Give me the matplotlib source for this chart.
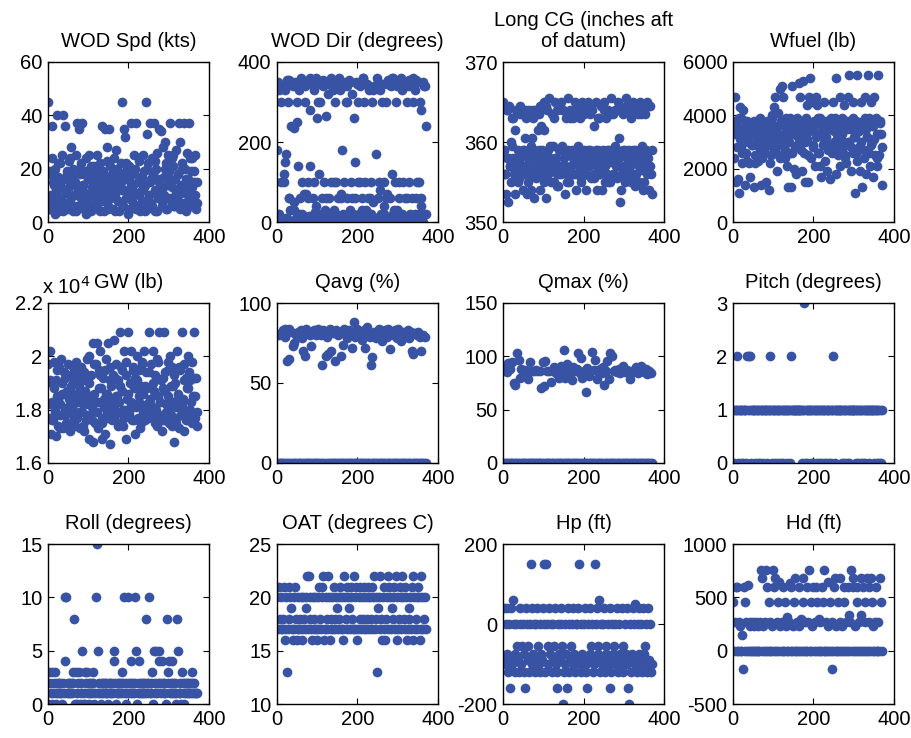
import numpy as np
import matplotlib.pyplot as plt
from matplotlib.ticker import FuncFormatter

plt.rcParams['font.family'] = ['Liberation Sans', 'DejaVu Sans']
plt.rcParams['axes.unicode_minus'] = False

# samples on odd days (x = 1, 3, 5, ...)
wod_spd = [45, 5, 18, 10, 36, 24, 15, 5, 20, 12, 8, 40, 17, 4, 22, 14, 9, 25, 40, 6,
           16, 36, 11, 19, 5, 23, 13, 8, 28, 17, 4, 20, 10, 15, 25, 37, 6, 12, 35, 18,
           9, 22, 37, 14, 5, 19, 11, 24, 7, 16, 25, 10, 20, 4, 13, 18, 6, 21, 15, 9,
           25, 12, 5, 17, 22, 8, 14, 36, 19, 4, 35, 11, 16, 28, 6, 35, 21, 13, 9, 18,
           5, 24, 15, 10, 27, 20, 8, 17, 4, 14, 22, 12, 45, 6, 35, 32, 19, 9, 16, 11,
           21, 5, 14, 37, 8, 18, 25, 11, 20, 37, 6, 15, 10, 23, 4, 17, 12, 25, 8, 19,
           14, 45, 5, 33, 22, 10, 37, 16, 7, 24, 18, 37, 12, 4, 20, 26, 9, 15, 35, 11,
           34, 6, 28, 17, 10, 30, 22, 5, 14, 25, 19, 37, 8, 13, 24, 21, 6, 16, 11, 27,
           9, 18, 37, 5, 30, 14, 22, 7, 37, 12, 20, 4, 26, 16, 10, 37, 6, 19, 13, 24,
           8, 15, 25, 5, 7]
wod_dir = [180, 350, 20, 5, 300, 100, 340, 0, 120, 150, 330, 170, 10, 300, 60, 355, 30, 240, 0, 340,
           235, 50, 350, 10, 250, 140, 0, 330, 60, 360, 20, 100, 345, 5, 300, 70, 0, 350, 100, 15,
           280, 140, 345, 0, 60, 100, 330, 25, 360, 260, 5, 300, 120, 10, 350, 60, 0, 340, 100, 30,
           265, 0, 350, 320, 60, 15, 100, 360, 5, 340, 30, 0, 300, 100, 345, 60, 10, 0, 330, 70,
           180, 20, 350, 100, 0, 300, 60, 340, 10, 355, 30, 100, 0, 320, 5, 260, 150, 60, 350, 0,
           300, 20, 100, 340, 0, 60, 360, 10, 300, 100, 30, 345, 0, 60, 330, 20, 100, 0, 300, 50,
           340, 0, 170, 10, 360, 60, 0, 80, 330, 20, 5, 345, 100, 40, 0, 300, 70, 355, 10, 0,
           60, 340, 120, 20, 360, 0, 100, 300, 30, 350, 5, 60, 0, 360, 20, 330, 100, 0, 60, 350,
           10, 300, 0, 355, 100, 20, 340, 60, 0, 360, 5, 330, 60, 100, 0, 350, 20, 300, 40, 280,
           0, 350, 20, 340, 240]
long_cg = [365, 359, 356, 353.5, 364, 358, 352.5, 364.5, 357, 360, 355, 363, 358, 356, 361.5, 353.5, 364, 357, 359, 355.5,
           363.5, 358, 356, 364, 354, 359, 357, 360.5, 364, 353.5, 358, 355, 364, 357, 359.5, 360.5, 356, 363, 353, 358,
           364, 355.5, 357, 361.5, 359, 354, 364.5, 362, 356, 358, 365, 361.5, 357, 353, 364, 359, 356, 365.5, 358, 355,
           363.5, 357, 359.5, 355, 365, 358, 356, 364, 354.5, 359, 357, 365, 356, 359.5, 364, 358, 353.5, 357, 363, 356,
           365.5, 358.5, 355, 364, 357, 359, 363, 356, 358, 365, 354, 357.5, 364.5, 359, 356, 363, 358, 355.5, 365, 357,
           359, 364, 356, 354, 358, 365, 357, 363.5, 359, 355.5, 364, 358, 356, 362, 357.5, 365, 354, 359, 363, 356,
           358, 364.5, 354, 357, 359, 365, 355, 363, 358, 356, 364, 359, 357.5, 355, 365.5, 358, 363.5, 356, 359, 364,
           357, 355.5, 365, 360.5, 358, 352.5, 364, 356, 359, 363.5, 357, 355, 365.5, 358, 356, 364, 359, 357, 363, 355,
           358.5, 365, 356, 359, 354.5, 364, 357.5, 363.5, 355, 359, 365, 356.5, 358, 364, 354, 357, 363.5, 359, 356, 365,
           358, 354, 364.5, 356, 353.5]
wfuel = [3800, 2400, 4700, 1500, 3300, 3600, 1600, 1100, 4300, 2800, 3900, 2200, 4200, 3200, 1400, 3500, 2600, 3800, 3000, 2200,
         3500, 1700, 3700, 2900, 3300, 1300, 3800, 2500, 3400, 3100, 2300, 3600, 2800, 3900, 1400, 3200, 2400, 3700, 3000, 2600,
         3500, 1500, 3800, 2900, 1200, 3300, 2200, 3700, 4000, 3100, 4300, 2700, 4700, 3400, 1900, 4100, 3600, 2500, 5000, 3800,
         5100, 2900, 4700, 3600, 2400, 3900, 3200, 2100, 1300, 3700, 2600, 1300, 3800, 5100, 3300, 2000, 3600, 2800, 1800, 3900,
         3500, 5200, 2900, 4700, 3700, 1900, 3300, 5300, 2600, 1500, 3800, 4400, 3100, 1500, 4700, 5400, 2400, 3600, 4500, 2900,
         3800, 2100, 4700, 3300, 4400, 2600, 3700, 2100, 3900, 1700, 3400, 2900, 4500, 3700, 2300, 3200, 1900, 3800, 2700, 3500,
         1600, 3900, 2800, 3600, 4500, 3000, 3800, 1800, 5400, 3300, 2500, 3700, 4700, 2100, 3100, 3900, 2800, 3600, 4400, 2400,
         2200, 3800, 4700, 3000, 5500, 3500, 1900, 3700, 2600, 4500, 3200, 1100, 3800, 5500, 2300, 3400, 2800, 1900, 3700, 4500,
         1300, 3500, 2400, 3900, 4700, 1800, 3200, 5500, 2600, 3700, 2100, 4500, 3000, 1700, 3600, 4700, 2500, 3900, 2100, 3300,
         5500, 2500, 3800, 3300, 1400]
gw = [19700, 17700, 20200, 17100, 19000, 18300, 17600, 19800, 18000, 17000, 19100, 18500, 17400, 19600, 18200, 17800, 19900, 18600, 17300, 19400,
      18000, 19200, 17500, 18700, 19700, 17900, 18400, 17200, 19300, 18100, 17800, 19000, 18600, 17400, 19800, 18300, 17700, 19400, 18900, 17300,
      18500, 19600, 17900, 18200, 17200, 19100, 18700, 17600, 19900, 18400, 16900, 20000, 17800, 19300, 18100, 16800, 20500, 18600, 17500, 19700,
      20500, 18300, 17300, 19500, 20200, 18800, 16900, 17700, 19200, 18400, 17100, 19900, 18600, 17900, 20500, 18200, 16700, 19600, 18900, 17600,
      19300, 18100, 20600, 17800, 19700, 18500, 17500, 19100, 18300, 20900, 17900, 19500, 18700, 17400, 20200, 18000, 16900, 19800, 18400, 20900,
      17800, 19000, 18300, 20200, 17600, 19600, 18800, 17100, 19200, 18100, 20000, 17700, 19500, 18500, 17300, 18900, 19800, 17900, 18600, 20200,
      17600, 19400, 18200, 18800, 17700, 20900, 18400, 19700, 17900, 18100, 20200, 18700, 17500, 19300, 18000, 19900, 18500, 17800, 20900, 18300,
      19100, 17200, 18800, 20900, 17600, 19400, 18200, 17800, 19800, 18500, 17500, 20000, 18900, 17400, 19600, 18300, 16800, 19000, 18100, 17700,
      20200, 18600, 17300, 19500, 18100, 17800, 20900, 18400, 17200, 19700, 18000, 19200, 17600, 18800, 20000, 17900, 19100, 18300, 17500, 19800,
      18500, 20900, 17700, 19200, 17400]

# extra samples every fourth day (x = 2, 6, 10, ...) for the scattered panels
wod_spd_b = [5, 19, 8, 14, 3, 10, 22, 6, 16, 4, 12, 18, 7, 24, 5, 15, 10, 4, 13, 20,
             6, 14, 18, 3, 9, 16, 21, 5, 12, 7, 19, 14, 4, 11, 17, 8, 23, 5, 15, 10,
             20, 4, 13, 8, 18, 15, 6, 12, 22, 3, 16, 9, 14, 19, 5, 11, 24, 7, 17, 13,
             4, 20, 10, 15, 6, 18, 23, 4, 11, 16, 8, 13, 20, 5, 17, 9, 14, 25, 6, 12,
             18, 7, 11, 20, 5, 16, 13, 9, 24, 6, 19, 10, 15]
wod_dir_b = [20, 330, 0, 340, 100, 10, 355, 60, 0, 345, 30, 0, 300, 20, 350, 0, 70, 340, 5, 60,
             360, 10, 0, 340, 40, 0, 300, 20, 355, 0, 60, 345, 10, 0, 330, 100, 20, 0, 360, 60,
             0, 340, 10, 300, 0, 350, 60, 20, 0, 345, 100, 0, 30, 360, 10, 0, 340, 60, 20, 330,
             0, 10, 350, 100, 0, 300, 20, 60, 345, 0, 10, 360, 30, 0, 340, 100, 0, 20, 350, 0,
             60, 340, 10, 0, 300, 20, 355, 0, 100, 60, 0, 340, 20]
long_cg_b = [359, 356, 364, 358, 357, 359.5, 363, 356.5, 358, 355, 364.5, 357, 359, 356, 363, 358.5, 357, 354, 364, 359,
             356, 358, 363.5, 357, 359, 355, 364.5, 358, 356.5, 359.5, 357, 363, 358, 354.5, 356, 359, 364, 357, 358.5, 355,
             359, 363, 357, 358, 356, 364, 359.5, 357, 355, 358.5, 363.5, 356, 359, 357, 364.5, 358, 355.5, 359, 357, 363,
             356, 358.5, 364, 357, 359, 355, 363.5, 358, 356, 359.5, 357, 364, 358.5, 354, 356.5, 359, 364.5, 357, 358, 355.5,
             359, 364, 356, 358, 357, 363.5, 359.5, 355, 358, 356.5, 364.5, 357, 359]
wfuel_b = [3300, 3600, 2800, 3900, 3100, 2600, 3500, 3800, 2300, 3200, 3700, 2900, 3400, 2200, 3600, 3000, 3800, 2700, 3300, 3500,
           2900, 3700, 3200, 2500, 3900, 3400, 2800, 3600, 3100, 2400, 3800, 3300, 2700, 3500, 3000, 3900, 2600, 3400, 3700, 2900,
           3200, 3800, 2700, 3500, 3000, 3900, 2500, 3400, 3700, 2800, 3600, 3200, 3900, 2600, 3300, 3700, 3000, 3800, 2900, 3500,
           3700, 2600, 3400, 3900, 3100, 2800, 3600, 3300, 3800, 2500, 3500, 3000, 3700, 2800, 3900, 3200, 2600, 3600, 3400, 3000,
           3800, 2700, 3500, 3200, 3900, 2900, 3600, 3100, 3800, 2400, 3300, 3700, 2800]
gw_b = [18200, 19100, 17600, 18800, 17900, 19500, 18400, 17300, 19000, 18600, 17800, 19300, 18100, 17500, 18900, 19600, 17700, 18300, 19200, 17900,
        18700, 17400, 19400, 18200, 17800, 19000, 18500, 17600, 19700, 18300, 17900, 18800, 19300, 17500, 18100, 19500, 18600, 17700, 19100, 18400,
        17800, 19200, 18500, 17400, 18900, 19600, 18000, 17700, 19300, 18600, 17900, 18200, 19500, 17600, 18800, 19100, 18300, 17500, 19700, 18100,
        18900, 17700, 19400, 18200, 17800, 19000, 18600, 17400, 19800, 18300, 17600, 19200, 18700, 17900, 19500, 18100, 17800, 18900, 19300, 17500,
        18400, 19600, 17800, 18200, 19100, 17600, 18800, 19400, 18000, 17700, 19200, 18500, 17900]

qavg = [80, 0, 80, 0, 81, 0, 0, 83, 0, 79, 84, 0, 64, 0, 65, 84, 0, 82, 0, 73,
        0, 75, 0, 80, 0, 82, 79, 0, 0, 83, 0, 78, 70, 0, 67, 0, 84, 0, 81, 0,
        80, 0, 73, 0, 82, 0, 83, 0, 80, 0, 84, 0, 81, 0, 80, 61, 0, 83, 0, 82,
        67, 0, 79, 68, 0, 84, 0, 70, 0, 81, 0, 64, 0, 83, 0, 80, 0, 82, 0, 67,
        0, 74, 0, 84, 0, 80, 0, 78, 0, 83, 0, 82, 0, 72, 0, 88, 0, 79, 0, 84,
        0, 81, 0, 80, 0, 77, 0, 83, 0, 72, 0, 85, 0, 80, 0, 79, 61, 0, 66, 0,
        82, 0, 78, 0, 80, 0, 84, 0, 81, 0, 76, 0, 82, 0, 83, 0, 79, 0, 84, 0,
        71, 0, 82, 0, 80, 0, 83, 0, 78, 0, 84, 0, 80, 0, 76, 0, 82, 0, 79, 0,
        81, 0, 83, 0, 78, 0, 82, 70, 0, 68, 0, 81, 0, 80, 0, 82, 0, 79, 0, 70,
        0, 80, 0, 79, 0]
qmax = [90, 0, 87, 0, 85, 0, 94, 0, 88, 0, 0, 95, 0, 75, 0, 73, 0, 103, 0, 97,
        80, 0, 88, 0, 86, 0, 0, 87, 0, 86, 0, 79, 0, 95, 0, 86, 0, 0, 86, 0,
        87, 0, 86, 0, 0, 86, 0, 70, 0, 95, 72, 0, 96, 0, 86, 0, 0, 86, 0, 76,
        0, 86, 0, 90, 0, 84, 0, 88, 0, 80, 0, 91, 0, 86, 0, 106, 0, 80, 0, 93,
        0, 87, 0, 84, 0, 78, 0, 90, 0, 86, 0, 88, 0, 103, 0, 84, 98, 0, 80, 0,
        86, 0, 67, 0, 89, 0, 82, 0, 86, 0, 104, 0, 87, 0, 97, 0, 79, 0, 86, 0,
        88, 0, 84, 0, 90, 73, 0, 86, 0, 96, 0, 79, 0, 103, 0, 100, 0, 86, 0, 87,
        0, 85, 0, 88, 0, 84, 0, 86, 0, 91, 0, 85, 0, 87, 0, 86, 0, 79, 0, 84,
        0, 86, 0, 88, 0, 90, 0, 84, 0, 86, 0, 91, 0, 88, 0, 85, 0, 88, 0, 83,
        0, 86, 0, 84, 0]
pitch = [1, 0, 1, 1, 1, 2, 0, 1, 1, 0, 1, 1, 0, 1, 1, 1, 0, 2, 1, 2,
         2, 1, 0, 1, 1, 1, 1, 0, 1, 1, 0, 1, 1, 0, 1, 1, 1, 0, 1, 1,
         1, 1, 0, 1, 1, 1, 2, 1, 0, 1, 1, 1, 0, 1, 1, 0, 1, 1, 1, 0,
         1, 1, 0, 1, 1, 1, 0, 1, 1, 1, 0, 1, 2, 1, 1, 1, 1, 1, 1, 1,
         1, 1, 1, 1, 1, 0, 1, 1, 3, 0, 1, 1, 0, 1, 1, 1, 0, 1, 1, 0,
         1, 1, 0, 1, 1, 1, 0, 1, 1, 0, 1, 1, 0, 1, 1, 0, 1, 1, 1, 0,
         1, 0, 1, 1, 2, 1, 0, 1, 1, 1, 1, 1, 1, 1, 1, 0, 1, 1, 0, 1,
         1, 0, 1, 1, 0, 1, 1, 1, 1, 1, 1, 1, 0, 1, 1, 0, 1, 1, 0, 1,
         1, 0, 1, 1, 0, 1, 1, 1, 0, 1, 1, 1, 1, 1, 1, 0, 1, 1, 0, 1,
         1, 0, 1, 0, 1]
roll = [0, 3, 2, 1, 3, 0, 1, 2, 3, 0, 1, 2, 1, 2, 1, 2, 1, 0, 2, 1,
        10, 4, 10, 1, 2, 1, 2, 1, 2, 1, 2, 3, 8, 0, 3, 1, 0, 2, 3, 0,
        1, 2, 5, 0, 1, 3, 0, 2, 3, 1, 2, 0, 1, 2, 1, 3, 2, 0, 1, 10,
        15, 1, 5, 2, 1, 0, 2, 1, 2, 1, 2, 1, 2, 1, 0, 2, 1, 2, 1, 2,
        1, 5, 4, 2, 0, 1, 2, 1, 2, 1, 2, 3, 1, 2, 10, 1, 0, 2, 1, 10,
        2, 1, 2, 4, 1, 2, 1, 2, 10, 5, 0, 1, 4, 2, 1, 2, 1, 2, 1, 2,
        1, 8, 2, 1, 2, 10, 1, 2, 1, 3, 0, 5, 1, 2, 5, 1, 2, 5, 4, 2,
        1, 4, 2, 1, 2, 1, 0, 8, 3, 2, 4, 1, 2, 4, 1, 2, 1, 2, 1, 0,
        8, 5, 1, 2, 1, 0, 3, 2, 1, 0, 2, 1, 2, 1, 2, 1, 2, 1, 2, 3,
        1, 2, 1, 1, 1]
oat = [20, 17, 21, 18, 17, 20, 17, 18, 21, 16, 17, 20, 13, 17, 21, 18, 20, 19, 17, 16,
       20, 17, 21, 18, 16, 17, 20, 17, 18, 20, 16, 17, 20, 18, 17, 20, 19, 22, 17, 22,
       20, 18, 17, 16, 20, 17, 18, 20, 17, 16, 20, 17, 21, 18, 17, 20, 21, 22, 16, 17,
       20, 18, 17, 22, 20, 16, 17, 18, 20, 17, 21, 18, 17, 20, 19, 17, 20, 18, 21, 17,
       20, 16, 17, 22, 20, 18, 17, 21, 20, 19, 17, 21, 20, 18, 17, 22, 20, 17, 21, 16,
       17, 20, 18, 21, 17, 20, 18, 17, 21, 20, 17, 18, 20, 21, 17, 20, 18, 17, 21, 20,
       22, 17, 20, 18, 13, 19, 20, 17, 22, 18, 16, 20, 17, 21, 16, 18, 20, 17, 22, 21,
       20, 17, 19, 18, 20, 21, 17, 22, 20, 16, 17, 18, 21, 20, 17, 22, 20, 18, 17, 21,
       20, 16, 17, 18, 19, 20, 17, 21, 16, 22, 20, 17, 18, 20, 17, 21, 20, 16, 17, 22,
       20, 17, 18, 20, 17]
hp = [-90, 40, -100, 0, -75, 40, -120, 0, -160, -90, 40, -100, 60, 0, -120, -75, 0, -55, -90, -120,
      40, 0, -100, -55, 0, -75, -120, -160, 40, 0, -90, -55, -120, 0, 150, -100, 40, -75, 0, -120,
      -90, 0, 40, -55, -100, -120, 0, -75, -90, 40, 0, 150, -120, 150, 0, -100, -55, 40, -75, 0,
      -120, -90, 0, -55, 40, -100, -160, -120, 0, -75, -90, 40, 0, -55, -200, -120, -100, 0, -75, -160,
      40, 0, -120, -90, -55, 0, -100, 40, -75, -120, 0, -90, 0, 40, 150, -100, -120, 0, -75, -90,
      0, 40, -120, -100, -160, 0, -90, 40, -75, -55, 0, -120, -100, -90, 150, 0, 40, -55, -75, 60,
      -120, 0, -90, -100, 0, 40, -120, -75, -55, -90, 0, -100, -160, 40, -120, 0, -75, -90, -55, 0,
      -100, 40, -120, 0, -90, -75, -100, 40, -55, -120, -90, 0, -75, 40, -100, -160, -200, 0, -120, -90,
      -75, 40, 0, -100, 50, -90, -120, 0, -75, 40, -100, 0, -120, -90, 40, -75, -55, 0, -100, -120,
      40, -90, 0, -120, -100]
hd = [460, 0, 270, 600, 0, 600, 0, 270, 230, 0, 0, 150, -170, 600, 0, 460, 270, 0, 620, 0,
      270, 230, 0, 0, 270, 0, 230, 0, 270, 0, 0, 230, 0, 270, 760, 0, 680, 230, 0, 270,
      0, 760, 600, 0, 460, 0, 270, 0, 230, 760, 0, 600, 680, 0, 270, 460, 0, 640, 230, 0,
      270, 0, 600, 0, 460, 230, 0, 320, 0, 270, 630, 0, 600, 0, 230, 460, 0, 680, 0, 270,
      0, 230, 600, 0, 300, 0, 460, 680, 0, 270, 0, 600, 0, 270, 760, 0, 460, 0, 230, 600,
      0, 270, 0, 600, 460, 0, 300, 0, 270, 0, 600, 460, 0, 760, 0, 270, 0, 640, 230, 0,
      460, 0, 270, -170, 0, 600, 680, 0, 230, 0, 460, 0, 270, 680, 0, 230, 0, 600, 460, 0,
      270, 0, 600, 330, 0, 270, 760, 0, 680, 600, 0, 230, 0, 460, 600, 0, 270, 0, 680, 330,
      0, 600, 0, 270, 460, 0, 680, 0, 600, 270, 0, 680, 460, 0, 230, 0, 270, 600, 0, 0,
      270, 0, 680, 460, 0]

titles = ['WOD Spd (kts)', 'WOD Dir (degrees)', 'Long CG (inches aft\nof datum)', 'Wfuel (lb)',
          'GW (lb)', 'Qavg (%)', 'Qmax (%)', 'Pitch (degrees)',
          'Roll (degrees)', 'OAT (degrees C)', 'Hp (ft)', 'Hd (ft)']
series = [[wod_spd, wod_spd_b], [wod_dir, wod_dir_b], [long_cg, long_cg_b], [wfuel, wfuel_b],
          [np.array(gw) / 1e4, np.array(gw_b) / 1e4], [qavg], [qmax], [pitch],
          [roll], [oat], [hp], [hd]]
yticks = [[0, 20, 40, 60], [0, 200, 400], [350, 360, 370], [0, 2000, 4000, 6000],
          [1.6, 1.8, 2.0, 2.2], [0, 50, 100], [0, 50, 100, 150], [0, 1, 2, 3],
          [0, 5, 10, 15], [10, 15, 20, 25], [-200, 0, 200], [-500, 0, 500, 1000]]

blue = '#3853a4'
fig = plt.figure(figsize=(9.12, 7.38), dpi=100)
lefts = [48, 277, 503, 733]
tops = [62, 303, 544]
W, H = 161, 160
fs = 14.5

for k in range(12):
    r, c = divmod(k, 4)
    ax = fig.add_axes([lefts[c] / 912, 1 - (tops[r] + H) / 738, W / 912, H / 738])
    for j, y in enumerate(series[k]):
        step = 2 if j == 0 else 4
        x = 1 + j + step * np.arange(len(y))
        ax.plot(x, y, 'o', color=blue, ms=7, mew=0)
    ax.set_xlim(0, 400)
    ax.set_xticks([0, 200, 400])
    ax.set_ylim(yticks[k][0], yticks[k][-1])
    ax.set_yticks(yticks[k])
    ax.yaxis.set_major_formatter(FuncFormatter(lambda v, p: '%g' % v))
    ax.tick_params(direction='in', top=True, right=True, length=4, width=0.8,
                   labelsize=fs, pad=4)
    for s in ax.spines.values():
        s.set_linewidth(1.0)
    ax.set_title(titles[k], fontsize=fs, pad=11, linespacing=1.1)
    if k == 4:
        ax.text(-0.04, 1.03, 'x 10$^4$', transform=ax.transAxes, fontsize=fs,
                ha='left', va='bottom')

fig.savefig('out.png', dpi=100)
